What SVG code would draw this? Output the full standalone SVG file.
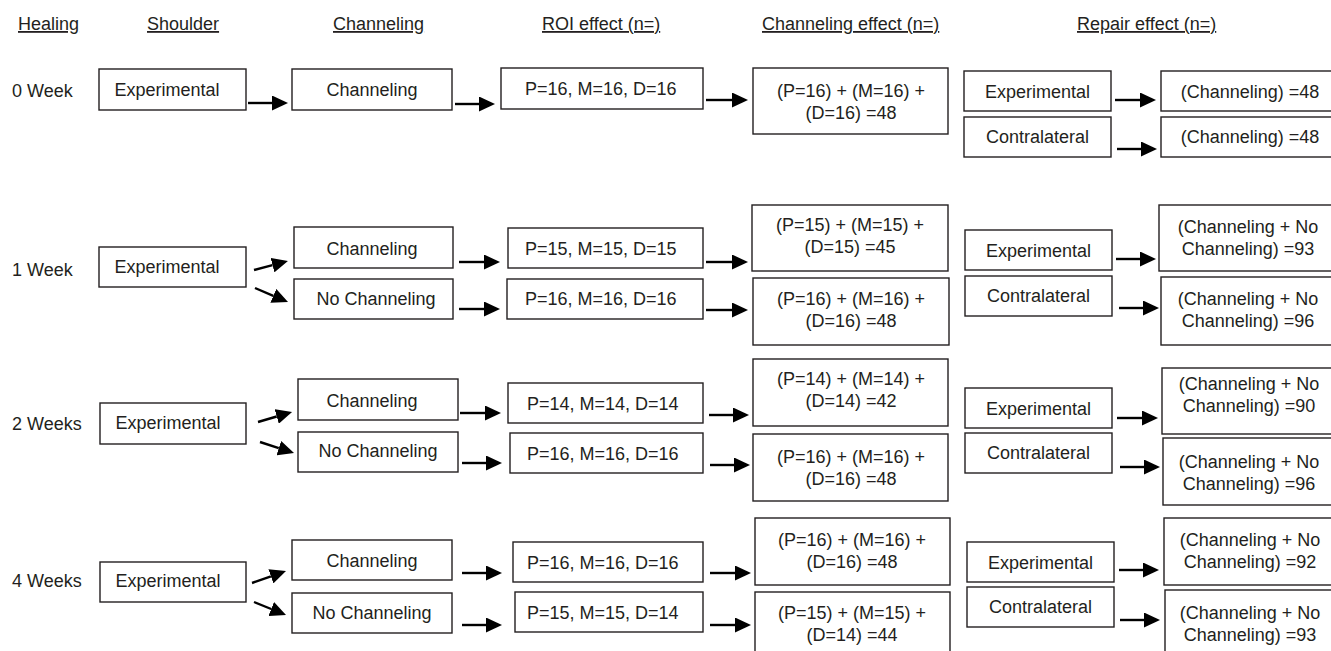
<svg xmlns="http://www.w3.org/2000/svg" width="1331" height="651" viewBox="0 0 1331 651">
<defs>
<style>
.box{fill:#fff;stroke:#231f20;stroke-width:1.4}
.t{font-family:"Liberation Sans",Arial,Helvetica,sans-serif;font-size:18px;fill:#231f20}
.c{text-anchor:middle}
.h{text-decoration:underline}
.arr{stroke:#000;stroke-width:2.4;fill:none;marker-end:url(#ah)}
</style>
<marker id="ah" markerUnits="userSpaceOnUse" markerWidth="16" markerHeight="15" refX="0" refY="7.5" orient="auto" viewBox="0 0 16 15">
<path d="M0,0 L16,7.5 L0,15 Z" fill="#000"/>
</marker>
</defs>
<rect width="1331" height="651" fill="#fff"/>

<g id="headers">
<text class="t h" x="18" y="30">Healing</text>
<text class="t h" x="147" y="30">Shoulder</text>
<text class="t h" x="333" y="30">Channeling</text>
<text class="t h" x="542" y="30">ROI effect (n=)</text>
<text class="t h" x="762" y="30">Channeling effect (n=)</text>
<text class="t h" x="1077" y="30">Repair effect (n=)</text>
</g>

<g id="row-labels">
<text class="t" x="12" y="97">0 Week</text>
<text class="t" x="12" y="276">1 Week</text>
<text class="t" x="12" y="430">2 Weeks</text>
<text class="t" x="12" y="587">4 Weeks</text>
</g>

<!-- 0 Week -->
<g id="w0-shoulder"><rect class="box" x="99" y="69" width="147" height="41"/><text class="t c" x="167" y="96">Experimental</text></g>
<g id="w0-ch"><rect class="box" x="292" y="69" width="160" height="41"/><text class="t c" x="372" y="96">Channeling</text></g>
<g id="w0-roi"><rect class="box" x="501" y="68" width="202" height="41"/><text class="t" x="525" y="95">P=16, M=16, D=16</text></g>
<g id="w0-cheff"><rect class="box" x="753" y="68" width="195" height="66"/><text class="t c" x="851" y="97">(P=16) + (M=16) +</text><text class="t c" x="851" y="119">(D=16) =48</text></g>
<g id="w0-rep-exp"><rect class="box" x="964" y="71" width="147" height="40"/><text class="t c" x="1037.5" y="98">Experimental</text></g>
<g id="w0-rep-con"><rect class="box" x="964" y="117" width="147" height="40"/><text class="t c" x="1037.5" y="143">Contralateral</text></g>
<g id="w0-res-exp"><rect class="box" x="1161" y="71" width="182" height="40"/><text class="t c" x="1250" y="98">(Channeling) =48</text></g>
<g id="w0-res-con"><rect class="box" x="1161" y="117" width="182" height="40"/><text class="t c" x="1250" y="143">(Channeling) =48</text></g>

<!-- 1 Week -->
<g id="w1-shoulder"><rect class="box" x="99" y="247" width="147" height="40"/><text class="t c" x="167" y="273">Experimental</text></g>
<g id="w1-ch"><rect class="box" x="294" y="227" width="159" height="41"/><text class="t c" x="372" y="255">Channeling</text></g>
<g id="w1-noch"><rect class="box" x="294" y="279" width="159" height="40"/><text class="t c" x="376" y="305">No Channeling</text></g>
<g id="w1-roi-ch"><rect class="box" x="508" y="228" width="195" height="40"/><text class="t" x="525" y="255">P=15, M=15, D=15</text></g>
<g id="w1-roi-noch"><rect class="box" x="507" y="279" width="196" height="40"/><text class="t" x="525" y="305">P=16, M=16, D=16</text></g>
<g id="w1-cheff-ch"><rect class="box" x="752" y="205" width="196" height="66"/><text class="t c" x="850" y="231">(P=15) + (M=15) +</text><text class="t c" x="850" y="253">(D=15) =45</text></g>
<g id="w1-cheff-noch"><rect class="box" x="753" y="278" width="196" height="67"/><text class="t c" x="851" y="305">(P=16) + (M=16) +</text><text class="t c" x="851" y="327">(D=16) =48</text></g>
<g id="w1-rep-exp"><rect class="box" x="965" y="230" width="147" height="40"/><text class="t c" x="1038.5" y="257">Experimental</text></g>
<g id="w1-rep-con"><rect class="box" x="965" y="276" width="147" height="40"/><text class="t c" x="1038.5" y="302">Contralateral</text></g>
<g id="w1-res-exp"><rect class="box" x="1159" y="205" width="184" height="66"/><text class="t c" x="1248" y="233">(Channeling + No</text><text class="t c" x="1248" y="255">Channeling) =93</text></g>
<g id="w1-res-con"><rect class="box" x="1161" y="277" width="182" height="68"/><text class="t c" x="1248" y="305">(Channeling + No</text><text class="t c" x="1248" y="327">Channeling) =96</text></g>

<!-- 2 Weeks -->
<g id="w2-shoulder"><rect class="box" x="100" y="403" width="146" height="41"/><text class="t c" x="168" y="429">Experimental</text></g>
<g id="w2-ch"><rect class="box" x="298" y="379" width="160" height="41"/><text class="t c" x="372" y="407">Channeling</text></g>
<g id="w2-noch"><rect class="box" x="298" y="432" width="160" height="40"/><text class="t c" x="378" y="457">No Channeling</text></g>
<g id="w2-roi-ch"><rect class="box" x="508" y="383" width="195" height="40"/><text class="t" x="527" y="410">P=14, M=14, D=14</text></g>
<g id="w2-roi-noch"><rect class="box" x="510" y="433" width="193" height="40"/><text class="t" x="527" y="460">P=16, M=16, D=16</text></g>
<g id="w2-cheff-ch"><rect class="box" x="753" y="359" width="195" height="67"/><text class="t c" x="851" y="385">(P=14) + (M=14) +</text><text class="t c" x="851" y="407">(D=14) =42</text></g>
<g id="w2-cheff-noch"><rect class="box" x="753" y="434" width="195" height="67"/><text class="t c" x="851" y="463">(P=16) + (M=16) +</text><text class="t c" x="851" y="485">(D=16) =48</text></g>
<g id="w2-rep-exp"><rect class="box" x="965" y="388" width="147" height="40"/><text class="t c" x="1038.5" y="415">Experimental</text></g>
<g id="w2-rep-con"><rect class="box" x="965" y="433" width="147" height="40"/><text class="t c" x="1038.5" y="459">Contralateral</text></g>
<g id="w2-res-exp"><rect class="box" x="1162" y="368" width="181" height="66"/><text class="t c" x="1249" y="390">(Channeling + No</text><text class="t c" x="1249" y="412">Channeling) =90</text></g>
<g id="w2-res-con"><rect class="box" x="1163" y="438" width="180" height="67"/><text class="t c" x="1249" y="468">(Channeling + No</text><text class="t c" x="1249" y="490">Channeling) =96</text></g>

<!-- 4 Weeks -->
<g id="w4-shoulder"><rect class="box" x="100" y="562" width="146" height="40"/><text class="t c" x="168" y="587">Experimental</text></g>
<g id="w4-ch"><rect class="box" x="292" y="540" width="160" height="40"/><text class="t c" x="372" y="567">Channeling</text></g>
<g id="w4-noch"><rect class="box" x="292" y="593" width="160" height="40"/><text class="t c" x="372" y="619">No Channeling</text></g>
<g id="w4-roi-ch"><rect class="box" x="513" y="542" width="190" height="40"/><text class="t" x="527" y="569">P=16, M=16, D=16</text></g>
<g id="w4-roi-noch"><rect class="box" x="515" y="592" width="188" height="40"/><text class="t" x="527" y="619">P=15, M=15, D=14</text></g>
<g id="w4-cheff-ch"><rect class="box" x="755" y="518" width="195" height="67"/><text class="t c" x="852" y="546">(P=16) + (M=16) +</text><text class="t c" x="852" y="568">(D=16) =48</text></g>
<g id="w4-cheff-noch"><rect class="box" x="755" y="592" width="195" height="64"/><text class="t c" x="852" y="619">(P=15) + (M=15) +</text><text class="t c" x="852" y="641">(D=14) =44</text></g>
<g id="w4-rep-exp"><rect class="box" x="967" y="542" width="147" height="40"/><text class="t c" x="1040.5" y="569">Experimental</text></g>
<g id="w4-rep-con"><rect class="box" x="967" y="587" width="147" height="40"/><text class="t c" x="1040.5" y="613">Contralateral</text></g>
<g id="w4-res-exp"><rect class="box" x="1164" y="518" width="180" height="67"/><text class="t c" x="1250" y="546">(Channeling + No</text><text class="t c" x="1250" y="568">Channeling) =92</text></g>
<g id="w4-res-con"><rect class="box" x="1165" y="590" width="180" height="66"/><text class="t c" x="1250" y="619">(Channeling + No</text><text class="t c" x="1250" y="641">Channeling) =93</text></g>

<g id="connectors">
<!-- 0 week -->
<line class="arr" x1="248" y1="103" x2="272" y2="103"/>
<line class="arr" x1="455" y1="104" x2="479" y2="104"/>
<line class="arr" x1="706" y1="100" x2="732" y2="100"/>
<line class="arr" x1="1115" y1="100" x2="1140" y2="100"/>
<line class="arr" x1="1117" y1="149" x2="1141" y2="149"/>
<!-- 1 week -->
<line class="arr" x1="254" y1="270" x2="272.5" y2="265.1"/>
<line class="arr" x1="255" y1="288" x2="273.3" y2="295.8"/>
<line class="arr" x1="459" y1="262" x2="484" y2="262"/>
<line class="arr" x1="459" y1="309" x2="484" y2="309"/>
<line class="arr" x1="706" y1="262" x2="732" y2="262"/>
<line class="arr" x1="706" y1="310" x2="732" y2="310"/>
<line class="arr" x1="1116" y1="259" x2="1140" y2="259"/>
<line class="arr" x1="1119" y1="308" x2="1143" y2="308"/>
<!-- 2 weeks -->
<line class="arr" x1="258" y1="422" x2="276.7" y2="416.5"/>
<line class="arr" x1="260" y1="442" x2="278.8" y2="448.1"/>
<line class="arr" x1="460" y1="413" x2="485" y2="413"/>
<line class="arr" x1="462" y1="463" x2="486" y2="463"/>
<line class="arr" x1="709" y1="415" x2="733" y2="415"/>
<line class="arr" x1="710" y1="465" x2="734" y2="465"/>
<line class="arr" x1="1117" y1="418" x2="1142" y2="418"/>
<line class="arr" x1="1120" y1="467" x2="1144" y2="467"/>
<!-- 4 weeks -->
<line class="arr" x1="252" y1="583" x2="270.9" y2="576.3"/>
<line class="arr" x1="254" y1="602" x2="271.2" y2="609"/>
<line class="arr" x1="462" y1="573" x2="486" y2="573"/>
<line class="arr" x1="462" y1="625" x2="486" y2="625"/>
<line class="arr" x1="710" y1="573" x2="735" y2="573"/>
<line class="arr" x1="710" y1="625" x2="735" y2="625"/>
<line class="arr" x1="1119" y1="570" x2="1143" y2="570"/>
<line class="arr" x1="1120" y1="620" x2="1144" y2="620"/>
</g>
</svg>
